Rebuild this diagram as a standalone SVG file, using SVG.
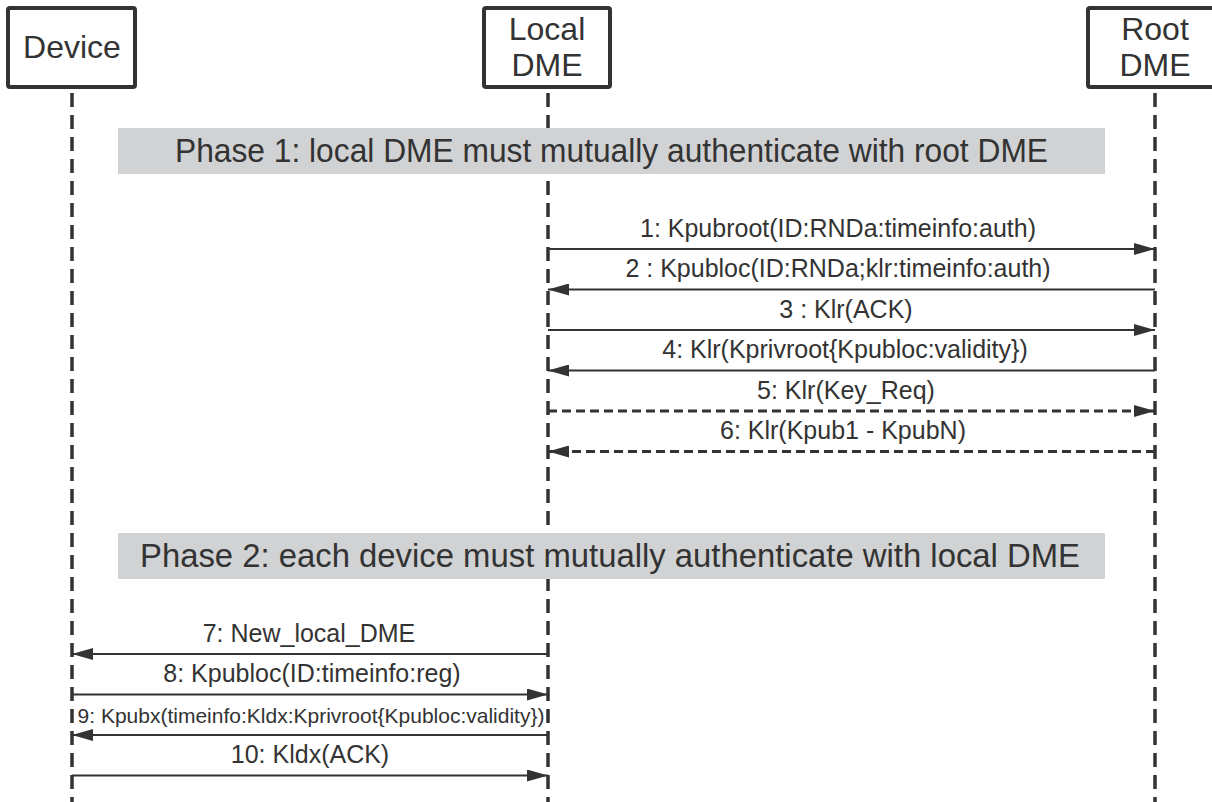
<svg xmlns="http://www.w3.org/2000/svg" width="1212" height="802" viewBox="0 0 1212 802">
<style>
  .box{fill:#fff;stroke:#333;stroke-width:4}
  .lbl{font-family:"Liberation Sans",Arial,sans-serif;fill:#333;text-anchor:middle}
  .boxt{font-size:32px}
  .msgt{font-size:25px}
  .life{stroke:#333;stroke-width:3.5;stroke-dasharray:14 8;fill:none}
  .msg{stroke:#333;stroke-width:2;fill:none}
  .dmsg{stroke:#333;stroke-width:3;stroke-dasharray:9 5;fill:none}
  .band{fill:#d1d2d4}
  .phase{font-size:33px}
</style>
<defs>
  <marker id="ah" markerWidth="21" markerHeight="12" refX="21" refY="6" orient="auto" markerUnits="userSpaceOnUse">
    <path d="M0,0 L21,6 L0,12 Z" fill="#333"/>
  </marker>
</defs>
<g id="lifelines">
  <line class="life" x1="72" y1="93" x2="72" y2="802"/>
  <line class="life" x1="548" y1="93" x2="548" y2="802"/>
  <line class="life" x1="1155" y1="93" x2="1155" y2="802"/>
</g>
<g id="device">
  <rect class="box" x="8" y="8" width="127" height="79" rx="2"/>
  <text class="lbl boxt" x="72" y="58">Device</text>
</g>
<g id="local-dme">
  <rect class="box" x="484" y="8" width="126" height="79" rx="2"/>
  <text class="lbl boxt" x="547" y="40">Local</text>
  <text class="lbl boxt" x="547" y="76">DME</text>
</g>
<g id="root-dme">
  <rect class="box" x="1088" y="8" width="130" height="79" rx="2"/>
  <text class="lbl boxt" x="1155" y="40">Root</text>
  <text class="lbl boxt" x="1155" y="76">DME</text>
</g>
<g id="phase1">
  <rect class="band" x="118" y="128" width="987" height="46"/>
  <text class="lbl phase" x="611.5" y="162" textLength="873" lengthAdjust="spacingAndGlyphs">Phase 1: local DME must mutually authenticate with root DME</text>
</g>
<g id="phase2">
  <rect class="band" x="118" y="533" width="987" height="46"/>
  <text class="lbl phase" x="610" y="567" textLength="940" lengthAdjust="spacingAndGlyphs">Phase 2: each device must mutually authenticate with local DME</text>
</g>
<g id="connectors">
  <line class="msg" x1="548" y1="249" x2="1155" y2="249" marker-end="url(#ah)"/>
  <line class="msg" x1="1155" y1="289.5" x2="548" y2="289.5" marker-end="url(#ah)"/>
  <line class="msg" x1="548" y1="330" x2="1155" y2="330" marker-end="url(#ah)"/>
  <line class="msg" x1="1155" y1="370.5" x2="548" y2="370.5" marker-end="url(#ah)"/>
  <line class="dmsg" x1="548" y1="411" x2="1155" y2="411" marker-end="url(#ah)"/>
  <line class="dmsg" x1="1155" y1="451.5" x2="548" y2="451.5" marker-end="url(#ah)"/>
  <line class="msg" x1="548" y1="654" x2="72" y2="654" marker-end="url(#ah)"/>
  <line class="msg" x1="72" y1="694.5" x2="548" y2="694.5" marker-end="url(#ah)"/>
  <line class="msg" x1="548" y1="735" x2="72" y2="735" marker-end="url(#ah)"/>
  <line class="msg" x1="72" y1="775.5" x2="548" y2="775.5" marker-end="url(#ah)"/>
</g>
<g id="labels">
  <text class="lbl msgt" x="838" y="236.5">1: Kpubroot(ID:RNDa:timeinfo:auth)</text>
  <text class="lbl msgt" x="838" y="277">2 : Kpubloc(ID:RNDa;klr:timeinfo:auth)</text>
  <text class="lbl msgt" x="846" y="317.5">3 : Klr(ACK)</text>
  <text class="lbl msgt" x="845" y="358">4: Klr(Kprivroot{Kpubloc:validity})</text>
  <text class="lbl msgt" x="846" y="398.5">5: Klr(Key_Req)</text>
  <text class="lbl msgt" x="843" y="439">6: Klr(Kpub1 - KpubN)</text>
  <text class="lbl msgt" x="309" y="641.5">7: New_local_DME</text>
  <text class="lbl msgt" x="312" y="682">8: Kpubloc(ID:timeinfo:reg)</text>
  <text class="lbl" style="font-size:21px" x="311" y="722.5">9: Kpubx(timeinfo:Kldx:Kprivroot{Kpubloc:validity})</text>
  <text class="lbl msgt" x="310" y="763">10: Kldx(ACK)</text>
</g>
</svg>
